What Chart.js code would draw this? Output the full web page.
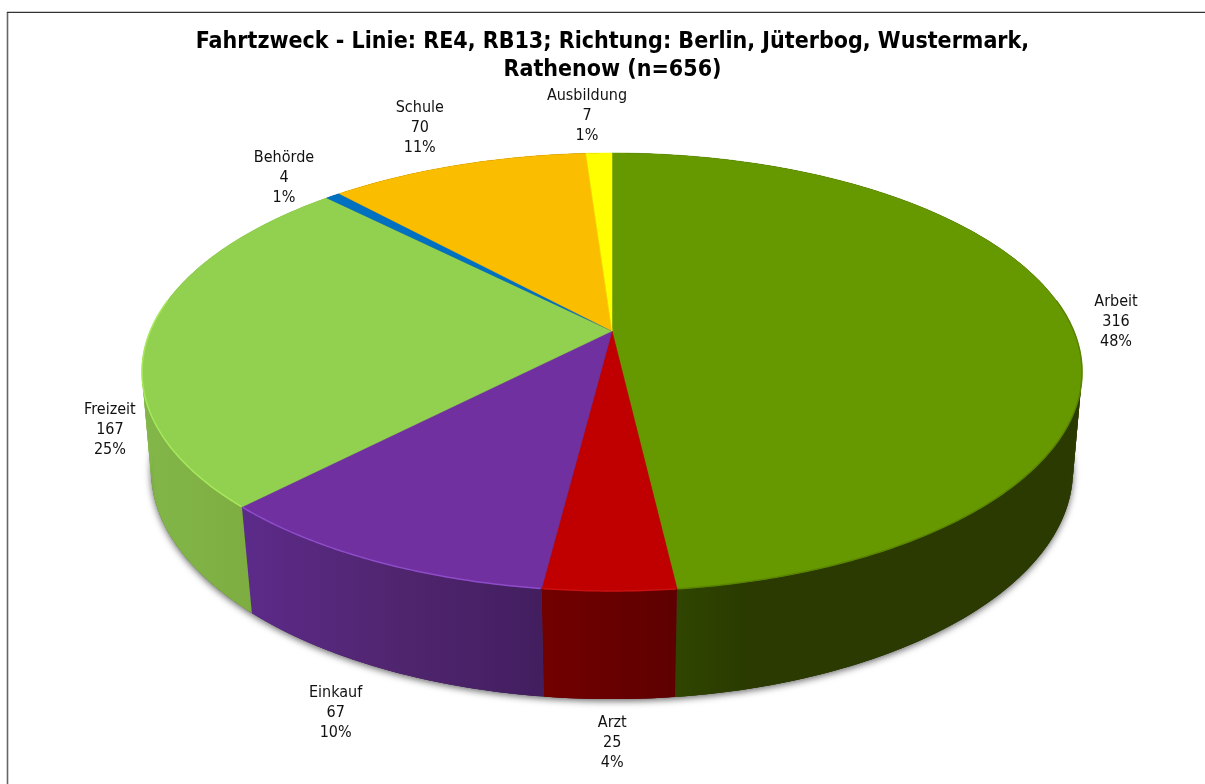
<!DOCTYPE html>
<html><head><meta charset="utf-8">
<style>html,body{margin:0;padding:0;background:#fff;overflow:hidden;width:1205px;height:784px}
#wrap{position:relative;width:1225px;height:784px}</style>
<script src="https://cdn.jsdelivr.net/npm/chart.js@4"></script>
</head><body><div id="wrap"><canvas id="c" width="1225" height="784"></canvas></div>
<script>
const categories = ['Arbeit','Arzt','Einkauf','Freizeit','Behörde','Schule','Ausbildung'];
const values = [316,25,67,167,4,70,7];
const titleLines = ['Fahrtzweck - Linie: RE4, RB13; Richtung: Berlin, Jüterbog, Wustermark,','Rathenow (n=656)'];
const topColors = ['#669900','#C00000','#7030A0','#92D050','#0070C0','#FBBD00','#FFFF00'];
const rimColors = ['#5A8400','#C81010','#8E4CC8','#A8E85C','#0070C0','#FBBD00','#FFFF00'];
const sideColors = [
  ['#344F00','#2A3A00','#2A3A00'],['#720000','#680000','#5E0000'],['#5C2A88','#50256F','#421E5F'],
  ['#82B648','#7EAE42','#7BA93F'],['#003860','#003860','#003860'],['#7F6000','#7F6000','#7F6000'],['#808000','#808000','#808000']];
const labelOffsets = [[48,3],[3,152],[-37,152],[-40,98],[-49,-18],[-38,-37],[-12,-37]];
const total = values.reduce((a,b)=>a+b,0);
const topDisc = {cx:612,cy:331,A:461.7,B:211.3,p:0.1872};
const lowDisc = {cx:612,cy:430,A:453.9,B:222,p:0.175};
// angle in Chart.js convention (radians, -PI/2 = 12 o'clock, clockwise)
function project(d,angle){
  const u=Math.cos(angle), v=-Math.sin(angle), w=1+d.p*v;
  return [d.cx+d.A*u/w, d.cy-d.B*v/w];
}
function rim(ctx,d,a0,a1,start){
  const n=Math.max(2,Math.ceil(Math.abs(a1-a0)/0.01));
  for(let i=0;i<=n;i++){
    const p=project(d,a0+(a1-a0)*i/n);
    if(i===0&&start) ctx.moveTo(p[0],p[1]); else ctx.lineTo(p[0],p[1]);
  }
}
const perspectivePie = {
  id:'perspectivePie',
  beforeDraw(chart){
    const ctx=chart.ctx;
    ctx.save();ctx.lineWidth=1.6;ctx.strokeStyle='#666';
    ctx.beginPath();ctx.moveTo(7.5,784);ctx.lineTo(7.5,12);ctx.stroke();
    ctx.lineWidth=1.2;ctx.strokeStyle='#333';
    ctx.beginPath();ctx.moveTo(7,12.3);ctx.lineTo(1225,12.3);ctx.stroke();ctx.restore();
  },
  beforeDatasetsDraw(chart){
    const ctx=chart.ctx, arcs=chart.getDatasetMeta(0).data;
    ctx.save();
    // soft shadow beneath the lower disc
    ctx.shadowColor='rgba(0,0,0,0.6)';ctx.shadowBlur=7;ctx.shadowOffsetY=2;ctx.fillStyle='#444';
    ctx.beginPath();rim(ctx,lowDisc,0,Math.PI*2,true);ctx.closePath();ctx.fill();
    ctx.restore();
    ctx.save();
    // side walls, as overlapping quads between the two rims
    arcs.forEach((arc,i)=>{
      const a0=arc.startAngle,a1=arc.endAngle;
      const n=Math.max(4,Math.ceil((a1-a0)/0.01));
      let xs=[];
      for(let k=0;k<=n;k++){xs.push(project(lowDisc,a0+(a1-a0)*k/n)[0]);}
      const x0=Math.min(...xs),x1=Math.max(...xs);
      const g=ctx.createLinearGradient(x0,0,x1+1,0);
      const c=sideColors[i];
      g.addColorStop(0,c[0]);g.addColorStop(i===0?0.3:0.5,c[1]);g.addColorStop(1,c[2]);
      ctx.fillStyle=g;
      for(let k=0;k<n;k++){
        const b0=a0+(a1-a0)*k/n,b1=a0+(a1-a0)*Math.min(n,k+2)/n;
        const p=[project(topDisc,b0),project(topDisc,b1),project(lowDisc,b1),project(lowDisc,b0)];
        ctx.beginPath();ctx.moveTo(p[0][0],p[0][1]);
        for(let q=1;q<4;q++)ctx.lineTo(p[q][0],p[q][1]);
        ctx.closePath();ctx.fill();
      }
    });
    // top faces
    arcs.forEach((arc,i)=>{
      const a0=arc.startAngle,a1=arc.endAngle;
      ctx.fillStyle=topColors[i];ctx.strokeStyle=topColors[i];ctx.lineWidth=0.5;
      ctx.beginPath();ctx.moveTo(topDisc.cx,topDisc.cy);rim(ctx,topDisc,a0,a1,false);ctx.closePath();
      ctx.fill();ctx.stroke();
    });
    // bevel on the front part of the rim only
    const frontFrom=-0.15, frontTo=Math.PI+0.15;
    arcs.forEach((arc,i)=>{
      const s=Math.max(arc.startAngle,frontFrom), e=Math.min(arc.endAngle,frontTo);
      if(e<=s) return;
      ctx.strokeStyle=rimColors[i];ctx.lineWidth=1.5;
      ctx.beginPath();rim(ctx,topDisc,s+0.002,e-0.002,true);ctx.stroke();
    });
    ctx.restore();
    return false;
  },
  afterDraw(chart){
    const ctx=chart.ctx, arcs=chart.getDatasetMeta(0).data;
    ctx.save();
    ctx.font='16px "DejaVu Sans Condensed","DejaVu Sans",sans-serif';
    ctx.fillStyle='#111';ctx.textAlign='center';ctx.textBaseline='middle';
    arcs.forEach((arc,i)=>{
      const p=project(topDisc,(arc.startAngle+arc.endAngle)/2);
      const x=p[0]+labelOffsets[i][0], y=p[1]+labelOffsets[i][1];
      const lines=[categories[i],String(values[i]),Math.round(values[i]/total*100)+'%'];
      lines.forEach((t,k)=>ctx.fillText(t,x,y+(k-1)*20));
    });
    ctx.restore();
  }
};
new Chart(document.getElementById('c'),{
  type:'pie',
  data:{labels:categories,datasets:[{data:values,backgroundColor:topColors,borderWidth:0}]},
  plugins:[perspectivePie],
  options:{
    responsive:false,animation:false,
    plugins:{
      legend:{display:false},tooltip:{enabled:false},
      title:{display:true,text:titleLines,color:'#000',
        font:{family:'"DejaVu Sans Condensed","DejaVu Sans",sans-serif',size:23,weight:'bold',lineHeight:1.217},
        padding:{top:28,bottom:0}}
    }
  }
});
</script></body></html>
